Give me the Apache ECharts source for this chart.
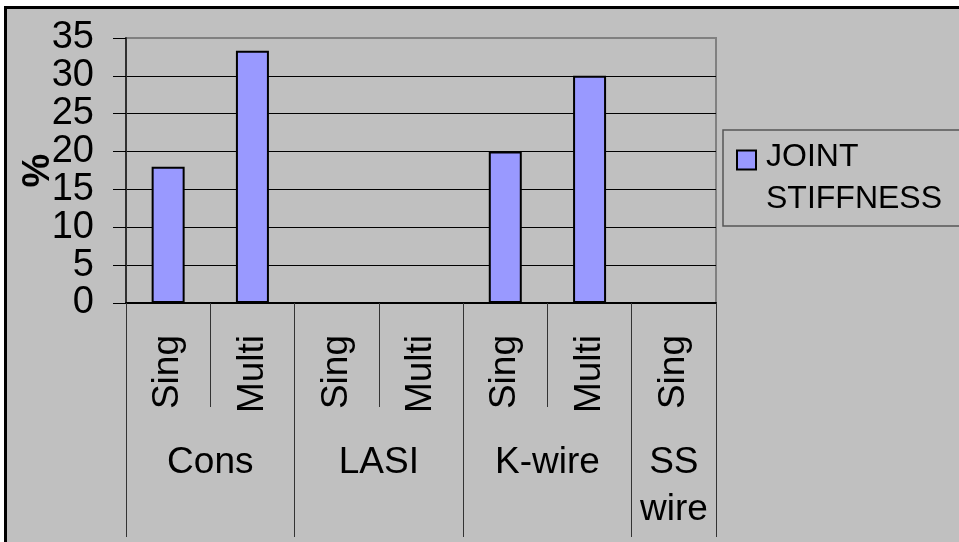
<!DOCTYPE html>
<html>
<head>
<meta charset="utf-8">
<script src="https://cdn.jsdelivr.net/npm/echarts@6/dist/echarts.min.js"></script>
<style>
  html, body { margin: 0; padding: 0; background: #ffffff; }
  #chart { width: 959px; height: 542px; }
</style>
</head>
<body>
<div id="chart"></div>
<script>
// Joint stiffness (%) by fixation method, single vs multiple
const subLabels = ['Sing', 'Multi', 'Sing', 'Multi', 'Sing', 'Multi', 'Sing'];
const groupNames = ['Cons', 'LASI', 'K-wire', 'SS\nwire'];
const groupSizes = [2, 2, 2, 1];
const stiffness = [18, 33.3, 0, 0, 20, 30, 0];
const seriesName = 'JOINT\nSTIFFNESS';
const yMin = 0, yMax = 35, yStep = 5;

// Group axis: half-category points so group centres and edges fall on points
const groupAxis = new Array(2 * subLabels.length + 1).fill('');
const groupEdges = [0];
let start = 0;
groupNames.forEach(function (g, i) {
  groupAxis[2 * start + groupSizes[i]] = g;
  start += groupSizes[i];
  groupEdges.push(2 * start);
});

const FONT = '"Liberation Sans", Arial, sans-serif';
const chart = echarts.init(document.getElementById('chart'), null, { renderer: 'canvas' });

chart.setOption({
  backgroundColor: '#ffffff',
  animation: false,
  textStyle: { fontFamily: FONT },
  graphic: [{
    type: 'rect', z: -100, silent: true,
    shape: { x: 5.5, y: 7.5, width: 1100, height: 700 },
    style: { fill: '#c0c0c0', stroke: '#000000', lineWidth: 3 }
  }],
  grid: {
    left: 126, top: 38, width: 590, height: 265,
    show: true, borderColor: '#808080', borderWidth: 2,
    backgroundColor: 'transparent',
    outerBoundsMode: 'none'
  },
  legend: {
    left: 723, top: 130, orient: 'vertical',
    padding: [6, 40, 6, 13],
    borderColor: '#555555', borderWidth: 1.5,
    icon: 'path://M0,0h19v19h-19zM24,55',
    itemWidth: 24, itemHeight: 55,
    itemStyle: { borderColor: '#000000', borderWidth: 2 },
    textStyle: { fontFamily: FONT, fontSize: 32, lineHeight: 42, color: '#000000' }
  },
  xAxis: [{
    type: 'category', data: subLabels, position: 'bottom',
    axisLine: { show: true, lineStyle: { color: '#000000', width: 2 } },
    axisTick: { show: true, length: 104, lineStyle: { color: '#333333', width: 1 } },
    axisLabel: { rotate: 90, interval: 0, margin: 32, fontSize: 37, color: '#000000', fontFamily: FONT },
    splitLine: { show: false }
  }, {
    type: 'category', data: groupAxis, position: 'bottom', boundaryGap: false,
    axisLine: { show: false },
    axisTick: {
      show: true, length: 234,
      interval: function (i) { return groupEdges.indexOf(i) >= 0; },
      lineStyle: { color: '#333333', width: 1 }
    },
    axisLabel: { interval: 0, margin: 136, fontSize: 37, lineHeight: 47, color: '#000000', fontFamily: FONT },
    splitLine: { show: false }
  }],
  yAxis: {
    type: 'value', min: yMin, max: yMax, interval: yStep,
    name: '%', nameLocation: 'middle', nameRotate: 90, nameGap: 68,
    nameMoveOverlap: false,
    nameTextStyle: { fontSize: 38, fontWeight: 'bold', color: '#000000', fontFamily: FONT },
    axisLine: { show: true, lineStyle: { color: '#303030', width: 2 } },
    axisTick: { show: true, length: 13, lineStyle: { color: '#000000', width: 1 } },
    axisLabel: { margin: 32, fontSize: 38, color: '#000000', fontFamily: FONT },
    splitLine: { show: true, showMaxLine: false, lineStyle: { color: '#000000', width: 1 } }
  },
  series: [{
    type: 'bar', name: seriesName, data: stiffness,
    xAxisIndex: 0, barWidth: 33,
    itemStyle: { color: '#9999ff', borderColor: '#000000', borderWidth: 2 }
  }]
});
</script>
</body>
</html>
